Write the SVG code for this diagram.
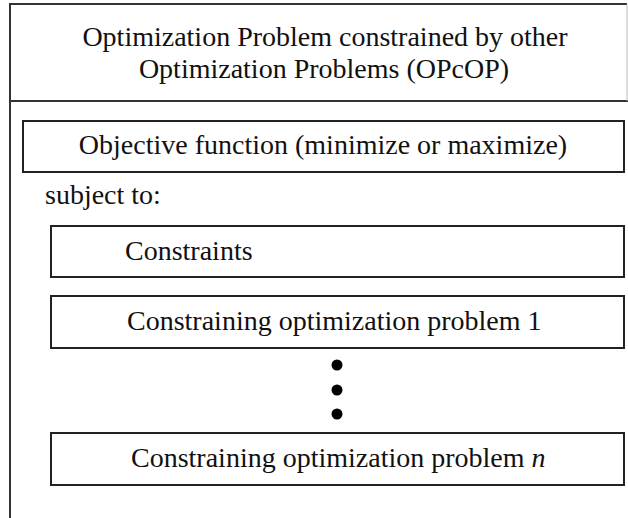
<svg xmlns="http://www.w3.org/2000/svg" width="628" height="518" viewBox="0 0 628 518">
  <style>
    .box { fill: #ffffff; stroke: #222222; stroke-width: 2; }
    .frame { fill: none; stroke: #333333; stroke-width: 2; }
    .t { font-size: 28px; fill: #111111; }
    .mid { text-anchor: middle; }
  </style>
  <rect width="628" height="518" fill="#ffffff"/>
  <g id="frame">
    <line class="frame" x1="9" y1="4" x2="627" y2="4"/>
    <line class="frame" x1="10" y1="3" x2="10" y2="518"/>
    <line class="frame" x1="10" y1="101" x2="628" y2="101"/>
    <line x1="627" y1="4" x2="627" y2="101" stroke="#bbbbbb" stroke-width="1"/>
  </g>
  <g font-family="Liberation Serif, Times New Roman, Times, DejaVu Serif, serif">
  <g id="title">
    <text class="t mid" x="325" y="46">Optimization Problem constrained by other</text>
    <text class="t mid" x="324" y="78">Optimization Problems (OPcOP)</text>
  </g>
  <g id="objective">
    <rect class="box" x="23" y="121" width="601" height="51"/>
    <text class="t mid" x="323" y="154">Objective function (minimize or maximize)</text>
  </g>
  <g id="subject-to">
    <text class="t" x="45" y="204">subject to:</text>
  </g>
  <g id="constraints">
    <rect class="box" x="51" y="226" width="573" height="51"/>
    <text class="t" x="125" y="260">Constraints</text>
  </g>
  <g id="problem-1">
    <rect class="box" x="51" y="296" width="573" height="52"/>
    <text class="t" x="127" y="330">Constraining optimization problem 1</text>
  </g>
  <g id="connectors">
    <circle cx="337" cy="365" r="5.5" fill="#000000"/>
    <circle cx="337" cy="390" r="5.5" fill="#000000"/>
    <circle cx="337" cy="414" r="5.5" fill="#000000"/>
  </g>
  <g id="problem-n">
    <rect class="box" x="51" y="433" width="573" height="52"/>
    <text class="t" x="131" y="467">Constraining optimization problem <tspan font-style="italic">n</tspan></text>
  </g>
  </g>
</svg>
